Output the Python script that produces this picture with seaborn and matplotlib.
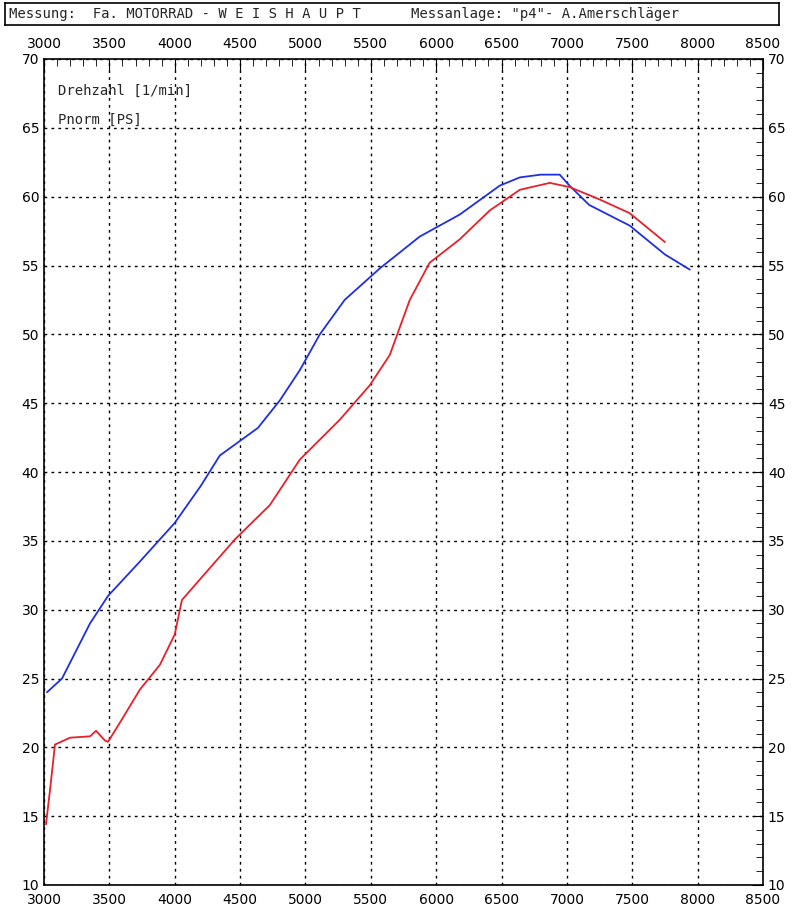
import matplotlib
matplotlib.use("Agg")
import matplotlib.pyplot as plt
import seaborn as sns
import pandas as pd
from matplotlib.ticker import MultipleLocator

sns.set_style("white")

blue_rpm = [3023,3138,3352,3490,3734,4000,4200,4345,4636,4804,4957,5110,5300,5570,5874,6180,6486,6640,6800,6945,7020,7170,7480,7750,7940]
blue_ps  = [24.0,25.0,29.0,31.0,33.5,36.3,39.0,41.2,43.2,45.2,47.4,50.0,52.5,54.8,57.1,58.7,60.8,61.4,61.6,61.6,60.8,59.4,57.9,55.8,54.7]
red_rpm = [3015,3046,3084,3199,3352,3398,3466,3490,3581,3734,3887,4000,4055,4193,4460,4728,4957,5263,5492,5645,5798,5950,6180,6410,6640,6869,7020,7250,7480,7750]
red_ps  = [14.4,16.9,20.2,20.7,20.8,21.2,20.5,20.4,21.8,24.2,26.0,28.2,30.7,32.2,35.1,37.6,40.9,43.8,46.3,48.5,52.5,55.2,56.9,59.0,60.5,61.0,60.7,59.8,58.8,56.7]

fig = plt.figure(figsize=(8.01, 9.07), dpi=100)
ax = fig.add_axes([44/801, 22/907, 719/801, 826/907])

sns.lineplot(x=blue_rpm, y=blue_ps, ax=ax, color="#1f2fe0", lw=1.3)
sns.lineplot(x=red_rpm, y=red_ps, ax=ax, color="#e8202a", lw=1.3)

ax.set_xlim(3000, 8500)
ax.set_ylim(10, 70)
ax.xaxis.set_major_locator(MultipleLocator(500))
ax.xaxis.set_minor_locator(MultipleLocator(100))
ax.yaxis.set_major_locator(MultipleLocator(5))
ax.yaxis.set_minor_locator(MultipleLocator(1))
ax.grid(True, which="major", color="black", linestyle=(0, (2, 3)), lw=1)
ax.tick_params(which="both", direction="in", top=True, right=True,
               labeltop=True, labelright=True, labelsize=10, colors="black")
ax.tick_params(which="major", length=8)
ax.tick_params(which="minor", length=5)
ax.tick_params(axis="x", pad=6)
for s in ax.spines.values():
    s.set_color("black"); s.set_linewidth(1.2)

ax.text(0.02, 0.97, "Drehzahl [1/min]", transform=ax.transAxes, family="DejaVu Sans Mono", fontsize=10, va="top")
ax.text(0.02, 0.935, "Pnorm [PS]", transform=ax.transAxes, family="DejaVu Sans Mono", fontsize=10, va="top")

hb = fig.add_axes([5/801, 1-25/907, 774/801, 22/907])
hb.set_xticks([]); hb.set_yticks([])
for s in hb.spines.values():
    s.set_color("black"); s.set_linewidth(1.2)
hb.text(0.005, 0.5, "Messung:  Fa. MOTORRAD - W E I S H A U P T", family="DejaVu Sans Mono", fontsize=10, va="center")
hb.text(0.525, 0.5, 'Messanlage: "p4"- A.Amerschläger', family="DejaVu Sans Mono", fontsize=10, va="center")

fig.savefig("out.png", dpi=100)
